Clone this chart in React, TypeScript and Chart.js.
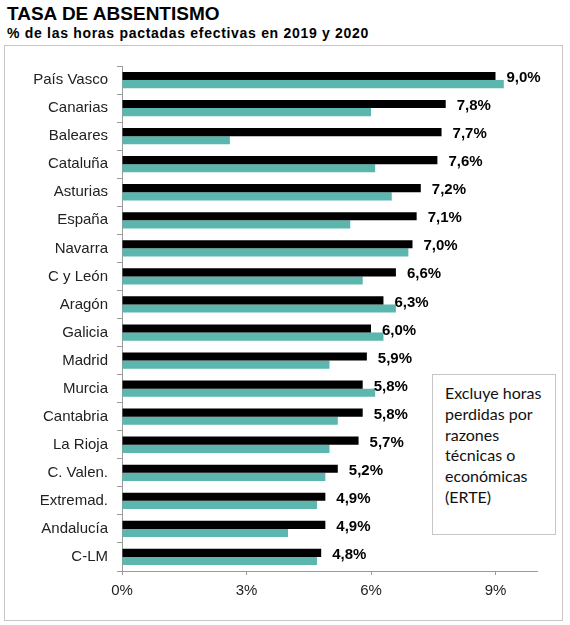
import React, { useEffect, useRef } from "react";
import { Chart, registerables } from "chart.js";

Chart.register(...registerables);

const categories = [
  "País Vasco", "Canarias", "Baleares", "Cataluña", "Asturias", "España",
  "Navarra", "C y León", "Aragón", "Galicia", "Madrid", "Murcia",
  "Cantabria", "La Rioja", "C. Valen.", "Extremad.", "Andalucía", "C-LM",
];
const values2019 = [9.0, 7.8, 7.7, 7.6, 7.2, 7.1, 7.0, 6.6, 6.3, 6.0, 5.9, 5.8, 5.8, 5.7, 5.2, 4.9, 4.9, 4.8];
const values2020 = [9.2, 6.0, 2.6, 6.1, 6.5, 5.5, 6.9, 5.8, 6.6, 6.3, 5.0, 6.1, 5.2, 5.0, 4.9, 4.7, 4.0, 4.7];
const xTicks = [0, 3, 6, 9];
const noteLines = ["Excluye horas", "perdidas por", "razones", "técnicas o", "económicas", "(ERTE)"];

const FONT = '"Liberation Sans", Arial, sans-serif';

const labelPlugin = {
  id: "barLabels",
  afterDatasetsDraw(chart: any) {
    const ctx = chart.ctx;
    const meta = chart.getDatasetMeta(0);
    ctx.save();
    ctx.font = `bold 15px ${FONT}`;
    ctx.fillStyle = "#000";
    ctx.textBaseline = "middle";
    ctx.textAlign = "left";
    meta.data.forEach((bar: any, i: number) => {
      const txt = values2019[i].toFixed(1).replace(".", ",") + "%";
      ctx.fillText(txt, bar.x + 11, bar.y + 2);
    });
    ctx.restore();
  },
};

export default function App() {
  const ref = useRef<HTMLCanvasElement>(null);
  useEffect(() => {
    if (!ref.current) return;
    const chart = new Chart(ref.current, {
      type: "bar",
      data: {
        labels: categories,
        datasets: [
          {
            label: "2019",
            data: values2019,
            backgroundColor: "#000000",
            categoryPercentage: 0.58,
            barPercentage: 1,
          },
          {
            label: "2020",
            data: values2020,
            backgroundColor: "#5BB6AE",
            categoryPercentage: 0.58,
            barPercentage: 1,
          },
        ],
      },
      options: {
        indexAxis: "y",
        animation: false,
        responsive: false,
        devicePixelRatio: 1,
        layout: { padding: { top: 66, right: 33, left: 0, bottom: 0 } },
        plugins: {
          legend: { display: false },
          tooltip: { enabled: false },
        },
        scales: {
          x: {
            min: 0,
            max: 10,
            afterFit: (s: any) => { s.height = 54; },
            afterBuildTicks: (s: any) => { s.ticks = xTicks.map((v) => ({ value: v })); },
            ticks: {
              callback: (v: any) => v + "%",
              color: "#222",
              font: { family: FONT, size: 15 },
              padding: 7,
            },
            grid: {
              drawOnChartArea: false,
              tickLength: 4,
              color: "#9a9a9a",
            },
            border: { color: "#9a9a9a", width: 1 },
          },
          y: {
            afterFit: (s: any) => { s.width = 122; },
            ticks: {
              color: "#222",
              font: { family: FONT, size: 15 },
              padding: 9,
            },
            grid: {
              offset: true,
              drawOnChartArea: false,
              tickLength: 5,
              color: "#9a9a9a",
            },
            border: { color: "#9a9a9a", width: 1 },
          },
        },
      },
      plugins: [labelPlugin],
    });
    return () => chart.destroy();
  }, []);

  return (
    <div style={{ position: "absolute", left: 0, top: 0, width: 570, height: 625, background: "#fff", overflow: "hidden" }}>
      <div style={{ position: "absolute", left: 4, top: 45, width: 557, height: 574, border: "1px solid #c6c6c6" }} />
      <div style={{ position: "absolute", left: 7, top: 3, fontFamily: FONT, fontWeight: "bold", fontSize: 19, lineHeight: "22px", color: "#000", whiteSpace: "nowrap" }}>
        TASA DE ABSENTISMO
      </div>
      <div style={{ position: "absolute", left: 7, top: 25, fontFamily: FONT, fontWeight: "bold", fontSize: 14, lineHeight: "16px", color: "#000", whiteSpace: "nowrap", letterSpacing: "0.7px" }}>
        % de las horas pactadas efectivas en 2019 y 2020
      </div>
      <canvas ref={ref} width={570} height={625} style={{ position: "absolute", left: 0, top: 0, width: 570, height: 625 }} />
      <div style={{ position: "absolute", left: 432, top: 374, width: 122, height: 159, border: "1px solid #c6c6c6", background: "#fff", boxSizing: "content-box" }}>
        <div style={{ paddingLeft: 12, paddingTop: 8, fontFamily: "Lato, 'Open Sans', sans-serif", fontSize: 16, lineHeight: "20.8px", color: "#111" }}>
          {noteLines.map((l, i) => (
            <div key={i} style={{ whiteSpace: "nowrap" }}>{l}</div>
          ))}
        </div>
      </div>
    </div>
  );
}
